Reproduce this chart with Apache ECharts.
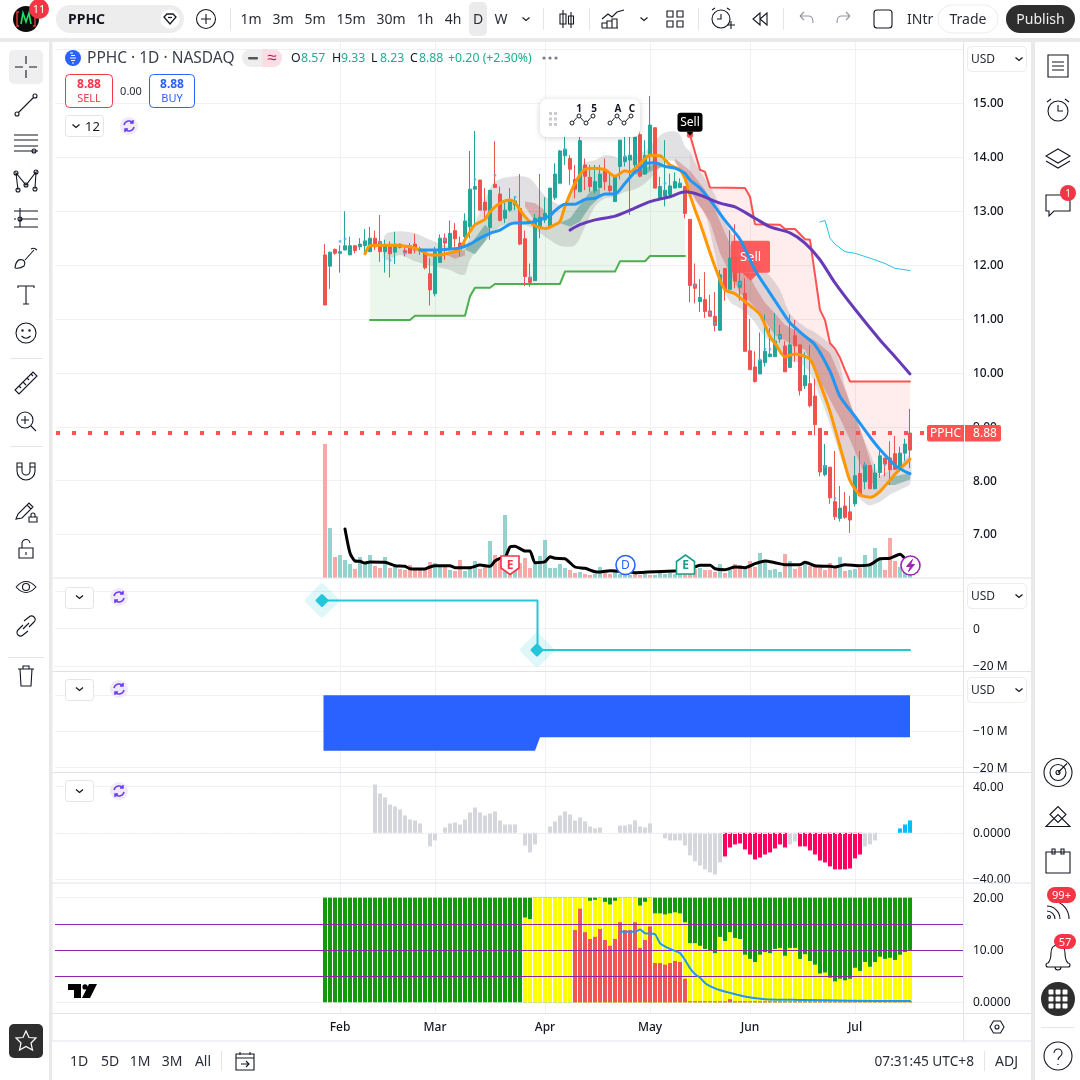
<!DOCTYPE html>
<html><head><meta charset="utf-8"><style>html,body{margin:0;padding:0;background:#fff}#c{width:1080px;height:1080px}</style>
<script src="https://cdn.jsdelivr.net/npm/echarts@6/dist/echarts.min.js"></script></head><body><div id="c"></div><script>
// ---------- data ----------
const monthLabels=['Feb','Mar','Apr','May','Jun','Jul'];
const monthBars=[3,22,44,65,85,106];
const priceTicks=[7,8,9,10,11,12,13,14,15,16];
// [open, close, low, high]
const candles=[[12.19,11.26,11.26,12.39],[11.98,12.24,11.56,12.25],[12.29,12.22,12.19,12.31],[12.22,12.25,11.86,12.37],[12.28,12.36,12.28,13.0],[12.19,12.36,12.19,12.53],[12.36,12.27,12.22,12.37],[12.34,12.39,12.28,12.5],[12.36,12.45,12.24,12.67],[12.25,12.5,12.25,12.71],
[12.5,12.34,12.28,12.64],[12.44,12.25,12.06,12.93],[12.25,12.36,11.86,12.47],[12.34,12.21,11.77,12.44],[12.24,12.39,12.02,12.62],[12.39,12.33,12.31,12.4],[12.27,12.23,12.16,12.34],[12.36,12.22,12.22,12.41],[12.39,12.28,12.22,12.58],[12.28,12.26,12.19,12.34],
[12.25,11.95,11.92,12.28],[11.84,11.54,11.25,12.13],[11.47,12.25,11.42,12.34],[12.05,12.5,12.05,12.57],[12.5,12.41,12.1,12.59],[12.29,12.59,12.29,12.83],[12.64,12.49,12.34,12.78],[12.41,12.28,12.16,12.53],[12.53,12.82,12.34,12.96],[12.71,13.41,12.5,14.12],
[13.41,13.46,12.75,14.49],[13.58,13.02,13.02,13.58],[13.17,13.02,12.87,13.43],[12.7,13.39,12.47,13.39],[13.5,13.44,13.44,14.3],[13.32,12.83,12.81,13.46],[12.87,13.02,12.78,13.18],[13.02,13.19,12.99,13.43],[13.12,13.19,13.02,13.27],[13.05,12.39,12.37,13.69],
[12.49,11.79,11.61,12.64],[11.77,11.68,11.6,12.03],[11.71,12.87,11.71,12.95],[12.71,12.89,12.5,13.69],[12.84,12.96,12.78,13.26],[12.73,13.43,12.71,13.43],[13.25,13.69,13.21,13.89],[13.52,14.12,13.52,14.14],[14.03,14.15,13.86,14.38],[13.98,13.78,13.49,14.04],
[13.59,13.41,13.24,13.86],[13.36,14.31,13.36,14.38],[13.86,13.65,13.39,13.98],[13.63,13.46,13.36,13.86],[13.38,13.55,13.33,13.86],[13.44,13.69,13.43,13.86],[13.77,13.55,13.39,13.98],[13.47,13.38,13.32,13.7],[13.18,13.65,13.17,13.67],[13.83,14.32,13.59,14.32],
[13.92,14.01,13.83,14.38],[13.95,14.04,12.93,14.38],[13.86,14.38,13.74,14.42],[14.42,13.65,13.63,14.54],[13.69,14.03,13.69,14.32],[14.04,14.6,13.77,15.14],[14.55,13.43,13.43,14.55],[13.22,13.46,13.21,13.64],[13.28,13.39,13.09,14.32],[13.31,13.47,13.27,13.7],
[13.43,13.55,13.43,13.72],[13.44,13.52,13.43,13.61],[13.46,12.96,12.87,13.46],[12.85,11.62,11.31,12.85],[11.65,11.57,11.29,12.03],[11.32,11.4,11.13,11.74],[11.36,11.14,11.02,11.87],[11.15,11.05,11.05,11.45],[11.05,10.88,10.77,11.5],[10.79,11.82,10.79,11.91],
[11.94,11.54,11.34,11.94],[11.55,12.13,11.55,12.65],[12.15,11.7,11.57,12.76],[11.59,11.7,11.34,12.17],[11.48,10.4,10.4,11.76],[10.41,10.06,10.06,11.0],[10.11,9.84,9.82,10.4],[9.98,10.24,9.98,10.75],[10.19,10.4,10.12,11.08],[10.3,10.35,10.3,10.83],
[10.3,10.59,10.3,11.11],[10.63,10.71,10.56,10.89],[10.5,10.02,10.02,10.59],[10.1,10.52,10.1,11.08],[10.69,10.5,10.21,10.98],[10.52,9.67,9.58,10.52],[9.76,9.95,9.7,10.38],[9.8,9.39,9.36,10.52],[9.57,9.04,8.84,9.89],[8.97,8.16,8.08,8.97],
[8.11,8.28,8.08,8.68],[8.25,7.68,7.57,8.25],[7.61,7.33,7.27,8.55],[7.3,7.49,7.24,7.9],[7.53,7.32,7.29,7.79],[7.42,7.27,7.03,7.72],[7.57,8.09,7.52,8.46],[8.13,7.72,7.71,8.55],[7.98,8.29,7.84,8.34],[8.28,7.85,7.85,8.28],
[7.85,8.14,7.84,8.31],[8.15,8.46,8.05,8.62],[8.42,8.31,8.08,8.42],[8.42,8.2,7.92,8.73],[8.5,8.21,8.2,8.83],[8.25,8.51,8.17,8.63],[8.51,8.68,8.36,8.78],[8.57,8.88,8.23,9.33]];
const lastBody=[8.88,8.57,8.57,8.88];
const volumes=[134,50,21,23,18,14,9,21,14,23,12,10,21,10,12,9,8,13,8,8,8,16,15,13,11,8,7,18,7,9,17,9,11,37,23,18,63,10,10,15,20,10,15,22,38,10,10,14,10,8,5,6,4,3,4,11,6,4,6,4,4,3,4,3,4,3,3,6,4,5,4,5,6,7,9,10,8,8,6,14,5,8,14,13,12,17,11,25,16,8,9,6,24,17,9,11,16,12,11,10,8,15,12,21,7,8,9,10,23,14,30,19,8,40,17,11,8,8];
const volumeDirs=['r','g','r','g','g','g','r','g','g','g','r','r','g','r','g','r','r','r','r','r','r','r','g','g','r','g','r','r','g','g','g','r','r','g','r','r','g','r','g','r','r','r','g','g','g','g','g','g','g','r','r','g','r','r','g','g','r','r','g','g','g','g','r','r','g','r','g','g','g','g','g','g','r','r','r','g','r','r','r','g','r','g','r','r','g','r','r','g','g','g','g','g','r','g','r','r','g','r','r','r','r','r','r','g','r','g','g','r','g','g','g','g','r','r','r','g','g','g'];
const volumeAverage=[[4,49],[5,25],[6,17],[7,16.7],[8,15],[9,16],[12,15.7],[14,12.3],[16,11.7],[17,9.3],[20,9],[21,11],[22,12.3],[25,12.3],[26,10.3],[29,10.3],[31,13],[33,11.7],[34,17],[35,19.7],[36,20.3],[37,31],[38,31.7],[40,27],[41,27],[42,15.3],[44,16.3],[45,21.3],[46,19.7],[48,19.3],[50,11],[52,9.7],[54,6.3],[55,6],[57,7.3],[59,6.7],[61,6],[62,5.3],[70,7],[72,7],[75,12.7],[77,12.7],[78,9.3],[80,8.3],[82,11],[84,10.3],[86,14.3],[88,17],[90,15.3],[92,13.3],[95,13.3],[96,15.7],[98,12.3],[101,11.7],[102,11],[104,13.3],[107,12.3],[109,13.3],[111,19.3],[113,19.7],[115,23.7],[116,19.3]];
const blueLine=[[19,12.28],[21,12.28],[24,12.29],[27,12.32],[29,12.39],[31,12.5],[33,12.59],[35,12.65],[37,12.76],[38,12.78],[41,12.79],[43,12.84],[45,12.92],[46,13.01],[48,13.13],[50,13.13],[52,13.22],[54,13.24],[56,13.32],[58,13.32],[60,13.52],[62,13.73],[63,13.78],[64,13.88],[66,13.9],[68,13.83],[70,13.8],[72,13.7],[73,13.58],[75,13.43],[77,13.21],[80,12.83],[83,12.48],[86,11.91],[89,11.48],[91,11.2],[93,10.93],[96,10.68],[98,10.52],[101,10.03],[103,9.56],[106,9.19],[109,8.81],[111,8.58],[114,8.29],[116,8.17],[117,8.13]];
const orangeLine=[[8,12.21],[9,12.36],[11,12.37],[14,12.37],[17,12.34],[19,12.28],[21,12.19],[23,12.19],[25,12.23],[27,12.29],[28,12.47],[29,12.62],[30,12.75],[32,12.85],[33,12.99],[35,13.15],[37,13.21],[38,13.16],[40,12.9],[42,12.73],[44,12.68],[46,12.75],[47,12.81],[48,13.09],[50,13.52],[52,13.78],[54,13.8],[56,13.77],[58,13.65],[60,13.75],[61,13.73],[63,13.88],[65,14.04],[67,14.03],[69,13.86],[71,13.77],[72,13.61],[73,13.3],[74,13.03],[75,12.78],[78,11.97],[80,11.54],[82,11.47],[84,11.32],[87,11.08],[89,10.67],[90,10.55],[92,10.3],[94,10.35],[97,10.25],[99,9.8],[101,9.28],[104,8.3],[105,8],[107,7.74],[109,7.69],[111,7.8],[114,8.12],[117,8.4]];
const purpleLine=[[49,12.65],[51,12.75],[54,12.84],[58,12.91],[61,13.02],[65,13.18],[69,13.27],[72,13.36],[75,13.3],[79,13.15],[82,13.08],[86,12.87],[89,12.71],[93,12.6],[96,12.41],[99,12.1],[102,11.67],[106,11.18],[111,10.61],[114,10.3],[117,9.98]];
const stopRed=[[73,14.42],[75,13.77],[76,13.73],[77,13.44],[84,13.43],[85,13.27],[86,12.76],[91,12.75],[92,12.67],[94,12.67],[96,12.48],[97,12.47],[99,11.17],[100,10.98],[101,10.55],[102,10.45],[103,10.28],[104,10.05],[105,9.84],[117,9.84]];
const stopGreen=[[9,10.98],[17,10.98],[18,11.06],[28,11.06],[29,11.42],[30,11.58],[33,11.58],[34,11.65],[47,11.65],[48,11.88],[58,11.88],[59,12.07],[64,12.07],[65,12.17],[72,12.17]];
const cyanLine=[[99,12.8],[100,12.83],[101,12.5],[102,12.39],[104,12.25],[106,12.22],[109,12.13],[112,12.03],[114,11.94],[117,11.9]];
const greyUpper=[[12,12.56],[15,12.63],[18,12.59],[21,12.47],[25,12.34],[28,12.36],[30,12.78],[32,13.21],[34,13.55],[38,13.65],[41,13.61],[43,13.39],[45,13.21],[48,13.12],[50,13.58],[52,13.89],[54,13.95],[56,14.04],[58,14.01],[60,13.92],[62,14.05],[64,14.12],[66,14.32],[68,14.46],[70,14.48],[71,14.42],[72,14.2],[73,14.1],[74,13.9],[76,13.6],[78,13.3],[80,12.8],[82,12.5],[85,12.25],[87,11.97],[89,11.8],[91,11.54],[93,11.1],[96,10.85],[98,10.75],[102,10.43],[104,9.75],[106,9.19],[109,8.51],[111,8.1],[113,8.2],[115,8.3],[117,8.45]];
const greyLower=[[12,12.1],[15,12.19],[18,12.07],[22,11.97],[25,11.91],[27,11.82],[28,11.83],[29,12.1],[31,12.34],[33,12.53],[35,12.71],[38,12.78],[41,12.71],[44,12.53],[47,12.36],[50,12.37],[52,12.71],[54,13.09],[56,13.24],[58,13.27],[60,13.36],[62,13.41],[64,13.52],[66,13.7],[68,13.92],[70,13.92],[72,13.6],[74,13.2],[76,12.96],[78,12.2],[79,11.73],[81,11.32],[83,11.2],[85,11.05],[88,10.67],[91,10.43],[92,10.24],[95,10.18],[97,10],[100,9.31],[102,8.76],[104,8.2],[106,7.77],[108,7.58],[109,7.54],[111,7.61],[113,7.74],[115,7.83],[117,7.94]];
const redRibbonUpper=[[70,13.98],[73,13.75],[76,13.4],[78,13.03],[80,12.6],[82,12.19],[84,11.97],[86,11.6],[88,11.3],[90,11.1],[92,10.89],[95,10.74],[98,10.6],[101,10.37],[103,9.93],[105,9.44],[107,8.97],[109,8.38],[110,8.08]];
const redRibbonLower=[[70,13.92],[73,13.4],[75,13.09],[77,12.8],[79,12.22],[81,11.85],[83,11.48],[85,11.32],[87,11.1],[90,10.7],[93,10.55],[96,10.43],[98,10.03],[101,9.5],[103,9.16],[105,8.76],[107,8.32],[109,7.89],[110,8.0]];
const redRibbon1U=[[24,12.22],[26,12.25],[28,12.28]], redRibbon1L=[[24,12.2],[26,12.12],[28,12.18]];
const redRibbon2U=[[40,13.18],[42,13.15],[44,13.02]], redRibbon2L=[[40,13.09],[42,12.81],[44,12.84]];
const tealRibbon1U=[[28,12.29],[30,12.5],[32,12.75],[33,12.65]], tealRibbon1L=[[28,12.29],[30,12.2],[32,12.44],[33,12.62]];
const tealRibbon2U=[[47,12.78],[49,12.87],[51,13.12],[53,13.36],[55,13.43]], tealRibbon2L=[[47,12.78],[49,12.71],[51,12.81],[53,13.09],[55,13.27]];
const tealRibbon3U=[[62,13.72],[64,13.8],[66,13.88],[68,13.83]], tealRibbon3L=[[62,13.68],[64,13.68],[66,13.78],[68,13.83]];
const tealRibbon4U=[[112,7.92],[114,8.08],[117,8.14]], tealRibbon4L=[[112,7.92],[114,7.92],[117,8.02]];
// pane 2 (millions)
const stepSeries=[[0,15.2],[42,15.2],[43,-11.5],[117,-11.5]];
// pane 3 (millions)
const blueAreaTop=[[0,0],[117,0]];
const blueAreaBottom=[[0,-15.3],[42,-15.3],[43,-11.6],[117,-11.6]];
// pane 4 histogram (index 10 onward)
const histValues=[41.8,34.1,30.6,24.5,22.8,20.2,15,11.5,10.7,8.1,0,-11.8,-6.6,0,4.6,8.1,8.9,7.2,11.5,17.6,21.9,17.6,15,16.7,18.5,10.7,7.2,7.2,7.2,0,-11,-17,-10.1,0,0,5.5,9.8,15,18.5,15.9,10.7,13.3,9.8,5.5,3.8,4.6,0,0,0,6.3,6.3,7.2,10.7,5.5,4.6,8.1,0,0,-4.9,-6.6,-6.6,-6.6,-11,-19.6,-24.8,-28.3,-31.7,-34.3,-36.1,-25.7,-20.5,-12.7,-10.1,-9.2,-14.4,-18.8,-23.1,-21.4,-18.8,-17,-13.6,-10.1,-12.7,-10.1,-7.5,-11.8,-11.8,-15.3,-18.8,-24,-25.7,-29.1,-31.7,-31.7,-31.7,-30.9,-22.2,-18.8,-11.8,-10.1,-6.6,0,0,0,0,3.8,7.2,10.7];
const histPink=[[80,92],[95,107]], histCyan=[[115,117]];
// pane 5 stacks (value of each colour's top edge)
const redTop=[0,0,0,0,0,0,0,0,0,0,0,0,0,0,0,0,0,0,0,0,0,0,0,0,0,0,0,0,0,0,0,0,0,0,0,0,0,0,0,0,0,0,0,0,0,0,0,0,0,0,13.8,17.9,13.4,12.1,12.5,14,11.9,10.8,12.1,15.3,13.8,13.8,15.3,10.4,11.9,14.5,7.5,7.5,7.2,7.5,7.9,7.7,4.5,0.2,0.2,0.2,0.2,0.2,0.2,0.2,0.2,0.6,0.2,0.2,0.2,0.2,0.2,0.2,0.2,0.2,0.2,0.2,0.2,0.2,0.2,0.2,0.2,0.2,0.2,0.2,0.2,0.2,0.2,0.2,0.2,0.2,0.2,0.2,0.2,0.2,0.2,0.2,0.2,0.2,0.2,0.2,0.2,0.2];
const yellowTop=[0,0,0,0,0,0,0,0,0,0,0,0,0,0,0,0,0,0,0,0,0,0,0,0,0,0,0,0,0,0,0,0,0,0,0,0,0,0,0,0,16.2,15.9,20,20,20,20,20,20,20,20,20,20,20,19.4,19.6,20,19.2,18.7,19.4,20,20,20,20,18.5,19.2,20,17,17,16.8,17,17.2,17,15.3,11.3,11.3,10.8,10.2,9.8,9.4,12.5,11.7,13.4,12.3,12.1,9.1,8.3,7.7,9.1,9.6,9.4,10.2,10.4,8.9,10.4,10.4,8.3,9.2,7.9,7.2,5.5,5.7,4.7,4,4.5,4.2,4.5,6.6,6,7.7,6.8,7.7,8.7,8.3,8.5,8.1,9.1,9.6,10];
const greenTop=new Array(118).fill(20);
const pane5Line=[[59,13.5],[62,13.5],[63,13.9],[64,13.2],[66,13],[67,11.3],[69,10.2],[71,9.4],[72,8.1],[73,6.5],[74,5.4],[75,4.7],[76,3.7],[77,3.1],[79,2.3],[81,1.8],[84,1.1],[88,0.6],[95,0.45],[105,0.3],[117,0.25]];
const pane5Levels=[15,10,5];
const dotMarks=[[3,12.44],[4,12.49],[11,12.42],[13,12.09],[16,12.22],[19,12.29],[24,12.47],[30,13.59],[34,13.67],[38,13.26],[41,11.77],[48,14.15],[60,14.02],[68,13.52],[74,11.63],[77,11.11],[78,10.92],[83,11.66],[87,10.24],[88,10.44],[89,10.44],[91,10.67],[100,8.26],[102,7.67],[108,8.29],[112,8.29]];
const sellMarks=[{i:73,p:14.42},{i:85,p:11.99}];

// ---------- layout ----------
const LEAD=54, N=183, GL=55, GW=910;
const FONT='"Noto Sans",sans-serif', INK='#131722', GRID='#F0F1F5', SEP='#E0E3EB';
const GREEN='#26A69A', RED='#EF5350';
const categories=Array.from({length:N},(_,k)=>{const m=monthBars.indexOf(k-LEAD);return m>=0?monthLabels[m]:'d'+k;});
const X=i=>i+LEAD, shift=a=>a.map(p=>[X(p[0]),p[1]]);
const inRange=(r,i)=>r.some(s=>i>=s[0]&&i<=s[1]);
const panes=[{top:42,bottom:578,max:16.1415,min:6.1926,ticks:priceTicks,labels:[7,8,9,10,11,12,13,14,15],fmt:v=>v.toFixed(2)},
{top:578.5,bottom:671.5,max:27.1,min:-23.1,ticks:[-20,0,20],labels:[-20,0],fmt:v=>v==0?'0':'\u2212'+Math.abs(v)+' M'},
{top:672,bottom:772.5,max:6.44,min:-21.33,ticks:[-20,-10,0],labels:[-20,-10],fmt:v=>'\u2212'+Math.abs(v)+' M'},
{top:773,bottom:883,max:51.8,min:-43.5,ticks:[-40,0,40],labels:[-40,0,40],fmt:v=>v==0?'0.0000':(v<0?'\u2212':'')+Math.abs(v).toFixed(2)},
{top:883.5,bottom:1013.5,max:22.7,min:-2.14,ticks:[0,10,20],labels:[0,10,20],fmt:v=>v==0?'0.0000':v.toFixed(2)}];
const grids=panes.map(p=>({left:GL,width:GW,top:p.top,height:p.bottom-p.top}));
const isMonth=(k)=>monthBars.includes(k-LEAD);
const xAxes=panes.map((p,g)=>({type:'category',gridIndex:g,data:categories,boundaryGap:false,axisLine:{show:false},axisTick:{show:false},
 splitLine:{show:true,interval:(k)=>isMonth(k),lineStyle:{color:GRID,width:1}},
 axisLabel:{show:g==4,interval:(k)=>isMonth(k),margin:8,color:INK,fontFamily:FONT,fontSize:12,fontWeight:500,hideOverlap:false}}));
const yAxes=panes.map((p,g)=>({type:'value',gridIndex:g,position:'right',min:p.min,max:p.max,axisLine:{show:false},
 axisTick:{show:false,customValues:p.ticks},splitLine:{show:true,lineStyle:{color:GRID,width:1}},
 axisLabel:{customValues:p.labels,formatter:p.fmt,margin:8,verticalAlign:'top',padding:[-5.5,0,0,0],color:INK,fontFamily:FONT,fontSize:12,fontWeight:g==0?500:400,align:'left',showMinLabel:true,showMaxLabel:true}}));
yAxes.push({type:'value',gridIndex:0,position:'right',min:0,max:536,show:false,splitLine:{show:false}}); // volume overlay axis = index 5

function band(name,up,lo,color,z,g,smooth,leftPad){ g=g||0;
 return {type:'custom',name,xAxisIndex:g,yAxisIndex:g,z,silent:true,clip:true,data:[[LEAD,0]],
  renderItem:(prm,api)=>{const pts=[];up.forEach(p=>pts.push(api.coord([X(p[0]),p[1]])));lo.slice().reverse().forEach(p=>pts.push(api.coord([X(p[0]),p[1]])));
   if(leftPad){const m=Math.min(...pts.map(p=>p[0]));pts.forEach(p=>{if(p[0]===m)p[0]-=leftPad;});}
   return {type:'polygon',shape:{points:pts,smooth:smooth||0},style:{fill:color}};}};}
function line(name,pts,color,width,z,g,smooth,extra){ g=g||0;
 return Object.assign({type:'line',name,xAxisIndex:g,yAxisIndex:g,data:shift(pts),showSymbol:false,symbol:'none',z,smooth:smooth||0,silent:true,
  lineStyle:{color,width,cap:'round',join:'round'}},extra||{});}
const grnFillUp=orangeLine.filter(p=>p[0]>=9&&p[0]<=72), pinkFillLo=orangeLine.filter(p=>p[0]>=73);
const candleRows=candles.map((c,i)=>[X(i),c[0],c[1],c[2],c[3]]);
const barOf=(vals,start)=>vals.map((v,i)=>[X(i+(start||0)),v]);

const series=[
 band('greenFill',grnFillUp,stopGreen,'rgba(76,175,80,.11)',1),
 band('pinkFill',stopRed,pinkFillLo,'rgba(255,82,82,.11)',1),
 {type:'bar',name:'volume',xAxisIndex:0,yAxisIndex:5,data:barOf(volumes),barWidth:4,z:1,silent:true,
  itemStyle:{color:p=>volumeDirs[p.dataIndex]=='g'?'#93D3CD':'#F7A9A7'}},
 band('greyRibbon',greyUpper,greyLower,'rgba(105,105,115,.2)',2,0,.3),
 band('redRibbon',redRibbonUpper,redRibbonLower,'rgba(190,60,60,.3)',2),
 band('redRibbon1',redRibbon1U,redRibbon1L,'rgba(190,60,60,.3)',2),
 band('redRibbon2',redRibbon2U,redRibbon2L,'rgba(190,60,60,.3)',2),
 band('tealRibbon1',tealRibbon1U,tealRibbon1L,'rgba(30,125,110,.38)',2),
 band('tealRibbon2',tealRibbon2U,tealRibbon2L,'rgba(30,125,110,.38)',2),
 band('tealRibbon3',tealRibbon3U,tealRibbon3L,'rgba(30,125,110,.38)',2),
 band('tealRibbon4',tealRibbon4U,tealRibbon4L,'rgba(30,125,110,.38)',2),
 line('stopGreen',stopGreen,'#4CAF50',2,3),
 line('stopRed',stopRed,'#FF5252',2,3),
 {type:'candlestick',name:'PPHC',xAxisIndex:0,yAxisIndex:0,data:candleRows,encode:{x:0,y:[1,2,3,4]},barWidth:3,z:4,silent:true,
  itemStyle:{color:GREEN,color0:RED,borderColor:GREEN,borderColor0:RED,borderWidth:1}},
 {type:'candlestick',name:'lastBody',xAxisIndex:0,yAxisIndex:0,data:[[X(117),...lastBody]],encode:{x:0,y:[1,2,3,4]},barWidth:3,z:4,silent:true,
  itemStyle:{color:RED,color0:RED,borderColor:RED,borderColor0:RED,borderWidth:1}},
 {type:'scatter',name:'dots',xAxisIndex:0,yAxisIndex:0,data:shift(dotMarks),symbol:'rect',symbolSize:2.5,z:4,silent:true,itemStyle:{color:'#5AA7E8'}},
 {type:'custom',name:'sellTags',xAxisIndex:0,yAxisIndex:0,z:5,silent:true,clip:false,data:sellMarks.map(m=>[X(m.i),m.p]),
  renderItem:(prm,api)=>{const c=api.coord([api.value(0),api.value(1)]);const x=c[0],y=c[1];
   if(prm.dataIndex==0) return {type:'group',children:[
     {type:'circle',shape:{cx:x,cy:y,r:3.2},style:{fill:'#FF5252'}},
     {type:'rect',shape:{x:x-12.5,y:y-22,width:25,height:19,r:3},style:{fill:'#000'}},
     {type:'polygon',shape:{points:[[x-3.5,y-3],[x+3.5,y-3],[x,y+1]]},style:{fill:'#000'}},
     {type:'text',x:x,y:y-12,style:{text:'Sell',fill:'#fff',font:'12px '+FONT,align:'center',verticalAlign:'middle'}}]};
   return {type:'group',children:[
     {type:'rect',shape:{x:x-19,y:y-25,width:39,height:32,r:2},style:{fill:'rgba(255,82,82,.93)'}},
     {type:'polygon',shape:{points:[[x-8,y+7],[x+9,y+7],[x+.5,y+15]]},style:{fill:'rgba(255,82,82,.93)'}},
     {type:'text',x:x+.5,y:y-8,style:{text:'Sell',fill:'#fff',font:'13px '+FONT,align:'center',verticalAlign:'middle'}}]};}},
 line('orange',orangeLine,'#FF9800',3,6,0,.25),
 line('blue',blueLine,'#2196F3',3,7,0,.25),
 line('purple',purpleLine,'#673AB7',3,8,0,.25),
 line('cyan',cyanLine,'#26C6DA',1,8),
 line('volumeAverage',volumeAverage,'#000',3,8,0,.2,{yAxisIndex:5}),
 // price line
 {type:'line',name:'price',xAxisIndex:0,yAxisIndex:0,data:[],silent:true,z:9,
  markLine:{silent:true,symbol:'none',animation:false,label:{show:false},lineStyle:{color:'#FF5252',type:[4,12],dashOffset:-1,width:4,cap:'butt'},data:[{yAxis:8.88}]}},
 // pane 2
 line('step',stepSeries,'#26C6DA',2,4,1,0,{step:'middle'}),
 // pane 3
 band('blueArea',blueAreaTop,blueAreaBottom,'#2962FF',4,2,0,1.5),
 // pane 4
 {type:'bar',name:'hist',xAxisIndex:3,yAxisIndex:3,data:barOf(histValues,10),barWidth:4,z:3,silent:true,
  itemStyle:{color:p=>{const i=p.dataIndex+10;return inRange(histCyan,i)?'#00BFFF':inRange(histPink,i)?'#FF0060':'#D6D7DC';}},
  markLine:{silent:true,symbol:'none',animation:false,label:{show:false},lineStyle:{color:'#ECEDF0',type:'dashed',width:1},data:[{yAxis:0}]}},
 // pane 5
 {type:'bar',name:'green',xAxisIndex:4,yAxisIndex:4,data:barOf(greenTop),barWidth:4,barGap:'-100%',z:2,silent:true,itemStyle:{color:'#129A0C'}},
 {type:'bar',name:'yellow',xAxisIndex:4,yAxisIndex:4,data:barOf(yellowTop),barWidth:4,barGap:'-100%',z:3,silent:true,itemStyle:{color:'#FFFF00'}},
 {type:'bar',name:'red',xAxisIndex:4,yAxisIndex:4,data:barOf(redTop),barWidth:4,barGap:'-100%',z:4,silent:true,itemStyle:{color:'#F25555'}},
 line('pane5Line',pane5Line,'#2196F3',2,6,4,.2,{
  markLine:{silent:true,symbol:'none',animation:false,label:{show:false},lineStyle:{color:'#8E24AA',type:'solid',width:1},data:pane5Levels.map(v=>({yAxis:v}))}}),
];

// ---------- chrome ----------
const G=[], ICONS=[];
const Z=50, ZI=52, ZB=53, ZT=54;
const rect=(x,y,w,h,fill,r,stroke,lw,z)=>G.push({type:'rect',z:z||Z,silent:true,shape:{x,y,width:w,height:h,r:r||0},style:{fill:fill||'none',stroke:stroke||null,lineWidth:lw||1}});
const circle=(cx,cy,r,fill,stroke,lw,z)=>G.push({type:'circle',z:z||Z,silent:true,shape:{cx,cy,r},style:{fill:fill||'none',stroke:stroke||null,lineWidth:lw||1}});
const txt=(x,y,t,size,color,opt)=>{opt=opt||{};G.push({type:'text',z:ZT,silent:true,x,y:y+.9,style:{text:t,fill:color||INK,font:(opt.w||'normal')+' '+size+'px '+FONT,align:opt.a||'left',verticalAlign:'middle'}});};
const ic=(cx,cy,d,stroke,lw,fill)=>ICONS.push({cx,cy,d,stroke:stroke===undefined?INK:stroke,lw:lw||1.1,fill:fill||'none'});
const cp=(x,y,r)=>`M${x-r} ${y}a${r} ${r} 0 1 0 ${2*r} 0a${r} ${r} 0 1 0 ${-2*r} 0`;
// panels
const GAP='#E9E9EA';
rect(0,38,1080,4,GAP);rect(49,42,3.5,1038,GAP);rect(1031,42,4,1038,GAP);
rect(52.5,1041,978.5,39,'#fff');
[[578],[671.5],[772.5],[883],[1013.5],[1041]].forEach(a=>rect(52.5,a[0]-.5,978.5,1,SEP));
rect(963,42,1,999,SEP);rect(964,42,1.5,999,'#fff',0,null,1,Z-1);
// top bar
circle(26,19,13,'#0B0B0B');ic(26,19,'M-7 -7h-2v14h2M7 -7h2v14h-2','#E53935',1.4);ic(26,19,'M-5 5L-3 -6L0 3L3 -6L5 5','#22E06A',1.6);
circle(39,9,10,'#F23645',null,1,ZB);txt(39,9,'11',11,'#fff',{a:'center'});
rect(56,5,128,28,'#EDEDED',14);txt(68,19,'PPHC',14,INK,{w:'bold'});
circle(170,19,9.5,'#fff');ic(170,19,'M-6 -2L-3 -5H3L6 -2L0 5Z',INK,1.3);ic(170,19,'M-2 -1.5h4',INK,1.3);
circle(206,19,9.5,null,INK,1.1);ic(206,19,'M-5 0h10M0 -5v10');
rect(230,8,1,22,'#E5E5E5');
[['1m',251],['3m',283],['5m',315],['15m',351],['30m',391],['1h',425],['4h',453]].forEach(a=>txt(a[1],19,a[0],14,'#2A2E39',{a:'center'}));
rect(469,2,18,34,'#EBEBEB',5);txt(478,19,'D',14,'#2A2E39',{a:'center'});txt(501,19,'W',14,'#2A2E39',{a:'center'});
ic(526,19,'M-3.5 -1.5L0 1.5L3.5 -1.5');rect(543,8,1,22,'#E5E5E5');
ic(563,19,'M0 -9v18M-3 -5h6v10h-6z',INK,1.1,'#fff');ic(571,19,'M0 -7v16M-2.5 -3h5v8h-5z',INK,1.1,'#fff');rect(589,8,1,22,'#E5E5E5');
ic(613,19,'M-11 0L-5 -5L-1 -2L4 -7L11 -9M-11 9v-5h5v5M-6 9v-7h5v7M-1 9v-9h5v9M-11 9h16');
ic(644,19,'M-3.5 -1.5L0 1.5L3.5 -1.5');
ic(675,19,'M-8 -8h6v6h-6zM2 -8h6v6h-6zM-8 2h6v6h-6zM2 2h6v6h-6z');rect(698,8,1,22,'#E5E5E5');
ic(721,19,cp(0,0,9)+'M0 -5v5h-4M-9 -9L-6 -11M9 -9L6 -11M6 6h8M10 2v8',INK,1.1);
ic(760,19,'M0 -6L-7 0L0 6zM7 -6L0 0L7 6z');rect(783,8,1,22,'#E5E5E5');
ic(806,19,'M-6 -3H3Q7 -3 7 4M-6 -3L-2 -7M-6 -3L-2 1','#9598A1');
ic(844,19,'M6 -3H-3Q-7 -3 -7 4M6 -3L2 -7M6 -3L2 1','#9598A1');
rect(874,10,18,18,null,3,INK,1.1);
txt(907,19,'INtr',14,'#2A2E39');
rect(938,5,60,28,'#fff',14,'#EDEDED',1);txt(968,19,'Trade',14,'#2A2E39',{a:'center'});
rect(1006,5,69,28,'#2E2E2E',14);txt(1040.5,19,'Publish',14,'#F0F0F0',{a:'center'});
// left toolbar
rect(9,50,34,34,'#EFEFEF',5);
ic(26,67,'M0 -11v8M0 3v8M-11 0h8M3 0h8');
ic(26,105,cp(-9,9,2)+cp(9,-9,2)+'M-7.5 7.5L7.5 -7.5');
ic(26,143,'M-12 -8h24M-12 -3h24M-12 3h24M-12 8h24'+cp(8,8,2));
ic(26,181,'M-8 9L-10 -8L0 4L10 -9L9 8'+cp(-8,9,2)+cp(-10,-8,2)+cp(0,4,2)+cp(10,-9,2)+cp(9,8,2));
ic(26,219,'M-12 -8h24M-12 8h24M-6 -8v-3M-6 -8v16M-6 0h18M-12 0h2'+cp(-6,0,2));
ic(26,258,'M-11 10Q-10 0 -3 2Q0 4 -2 8Q-6 11 -11 10M-1 2L8 -8M5 -9Q8 -11 11 -8');
ic(26,295,'M-8 -7v-2h16v2M0 -9v18M-3 9h6');
ic(26,333,cp(0,0,10)+cp(-3.5,-2.5,.7)+cp(3.5,-2.5,.7)+'M-4.5 3Q0 7.5 4.5 3');
rect(10,358,33,1,'#E5E5E5');
ic(26,383,'M-11 7L7 -11L11 -7L-7 11zM-7 3l2 2M-3 -1l3 3M1 -5l2 2M5 -9l2 2');
ic(26,421,cp(-1,-1,8)+'M5 5L10 10M-5 -1h8M-1 -5v8');
rect(10,446,33,1,'#E5E5E5');
ic(26,472,'M-9 -9v8a9 9 0 0 0 18 0v-8h-5v8a4 4 0 0 1 -8 0v-8zM-9 -5h5M4 -5h5');
ic(26,511,'M-10 8L-8 3L3 -8L7 -4L-4 7zM1 -6l4 4M3 6h8v5h-8zM5 6v-2a2 2 0 0 1 4 0v2');
ic(26,549,'M-7 -1h14v10h-14zM-4 -1v-4a4 4 0 0 1 8 -1M0 3v3');
ic(26,587,'M-10 0Q0 -11 10 0Q0 11 -10 0'+cp(0,0,3.5));
ic(26,626,'M-2 -5L3 -9a3.5 3.5 0 0 1 5 5L3 1M2 5L-3 9a3.5 3.5 0 0 1 -5 -5L-3 -1M-3 3L3 -3');
rect(8,657,36,1,'#E5E5E5');
ic(26,676,'M-8 -7h16M-3 -7v-3h6v3M-6 -7L-5 10H5L6 -7');
rect(9,1024,34,34,'#2E2E2E',5);ic(26,1041,'M0 -10L3 -3.5L10 -3L5 2L6.5 9L0 5.5L-6.5 9L-5 2L-10 -3L-3 -3.5Z','#fff',1.2);
// right toolbar
ic(1058,66,'M-10 -11h20v22h-20zM-6 -4h12M-6 0h12M-6 4h12');
ic(1058,111,cp(0,0,10)+'M0 -6v6h5M-7 -12L-11 -9M7 -12L11 -9');
ic(1058,157,'M0 -8L12 -1L0 6L-12 -1zM-12 4L0 11L12 4');
ic(1058,205,'M-12 -10h24v16h-16L-9 11V6H-12z');circle(1068,193,8,'#F23645',null,1,ZB);txt(1068,193,'1',10,'#fff',{a:'center'});
ic(1058,772.5,cp(0,0,14)+cp(0,0,8)+cp(0,0,2)+'M0 0L9 -9',INK,1.1);
ic(1058,816.5,'M-12 10L0 -2L12 10zM-8 -2L0 -10L8 -2L0 6z');
ic(1058,861,'M-12 -9h24v21h-24zM-6 -12v5h3v-5zM3 -12v5h3v-5z');
ic(1058,908,cp(-9,9,1.5)+'M-11 3A8 8 0 0 1 -3 11M-11 -2A13 13 0 0 1 2 11M-4 -7A18 18 0 0 1 11 11');
rect(1047,887,29,16,'#F23645',8,null,1,ZB);txt(1061.5,895,'99+',11,'#fff',{a:'center'});
ic(1058,955,'M-10 8Q-7 5 -7 -2Q-7 -10 0 -10Q7 -10 7 -2Q7 5 10 8a2 2 0 0 1 0 4H-10a2 2 0 0 1 0 -4M-3 12a3 3 0 0 0 6 0');
rect(1054,934,22,15,'#F23645',7.5,null,1,ZB);txt(1065,941.5,'57',11,'#fff',{a:'center'});
circle(1058,999,17,'#2E2E2E');
[-7,0,7].forEach(dx=>[-7,0,7].forEach(dy=>rect(1058+dx-2.5,999+dy-2.5,5,5,'#fff',1,null,1,ZB)));
rect(1041,1027,33,1,'#E5E5E5');
ic(1058,1056,cp(0,0,14)+'M-4 -3a4 4 0 1 1 6 3.5Q0 2 0 4M0 8v1');
// legend
circle(73,58,8,'#2962FF');ic(73,58,'M-3 -5h3M-2 -2.5h4M-3 0h6M-2 2.5h4M-1 5h2','#fff',1);
txt(87,58,'PPHC \u00B7 1D \u00B7 NASDAQ',15.5,'#3A3F4A');
rect(242,49,40,18,'#EDEDED',9);G.push({type:'rect',z:Z+1,silent:true,shape:{x:262,y:49,width:20,height:18,r:[0,9,9,0]},style:{fill:'#FBDDE4'}});
rect(248,57,10,2.5,'#555',1,null,1,ZB);txt(272,57.5,'\u2248',17,'#C2185B',{a:'center'});
const TEAL='#22AB94';
[['O',291,INK],['8.57',301,TEAL],['H',332,INK],['9.33',341,TEAL],['L',371,INK],['8.23',380,TEAL],['C',410,INK],['8.88',419,TEAL],['+0.20 (+2.30%)',448,TEAL]].forEach(a=>txt(a[1],58,a[0],12.3,a[2]));
[544,550,556].forEach(x=>circle(x,58,1.6,'#787B86'));
rect(65.5,74.5,47,33,'#fff',4,'#F23645',1);txt(89,84,'8.88',12,'#F23645',{a:'center',w:'bold'});txt(89,98,'SELL',11,'#F23645',{a:'center'});
txt(131,90.5,'0.00',11,'#2A2E39',{a:'center'});
rect(149.5,74.5,45,33,'#fff',4,'#2962FF',1);txt(172,84,'8.88',12,'#2962FF',{a:'center',w:'bold'});txt(172,98,'BUY',11,'#2962FF',{a:'center'});
const chev=(x,y)=>ic(x,y,'M-3.5 -1.5L0 1.5L3.5 -1.5',INK,1.3);
const sync=(x,y)=>{circle(x,y,9,'#EFE9F8');ic(x,y,'M-5 -1A5 5 0 0 1 4 -3M5 1A5 5 0 0 1 -4 3M4 -6v3h-3M-4 6v-3h3','#6A3DF0',1.5);};
rect(65.5,115.5,38,21,'#fff',3,'#E5E5E5',1);chev(76,126);txt(92.5,126,'12',13,INK,{a:'center'});sync(129,126);
rect(65.5,587.5,28,21,'#fff',3,'#E5E5E5',1);chev(79.5,597);sync(119,597);
rect(65.5,679.5,28,21,'#fff',3,'#E5E5E5',1);chev(79.5,689);sync(119,689);
rect(65.5,780.5,28,21,'#fff',3,'#E5E5E5',1);chev(79.5,791);sync(119,791);
// USD boxes
[46,583,677].forEach(y=>{rect(967.5,y+.5,59,25,'#fff',4,'#EDEDED',1);txt(971,y+12.5,'USD',12,'#2A2E39');chev(1019,y+13);});
// price tag
rect(927,425,74,16.5,'#FF5252',2);rect(964,425,1,16.5,'#fff',0,null,1,Z+1);txt(945.5,433,'PPHC',12,'#fff',{a:'center'});txt(985,433,'8.88',12,'#fff',{a:'center'});
// floating drawing bar
G.push({type:'rect',z:Z,silent:true,shape:{x:540,y:99,width:100,height:38,r:7},style:{fill:'#fff',shadowBlur:6,shadowColor:'rgba(0,0,0,.18)',shadowOffsetY:1}});
[0,5.5,11].forEach(dy=>[549,554].forEach(x=>rect(x,112+dy,3,3,'#C9CBD0',0,null,1,Z+1)));
const wave=(x0)=>ic(x0,0,cp(2,123,2)+'M3.5 121.5L7 117.5'+cp(9,116,2)+'M10.5 117.5L14 121.5'+cp(16,123,2)+'M17.5 121.5L21 117.5'+cp(23,116,2),INK,1);
wave(570);wave(608);txt(579,108,'1',10,INK,{a:'center',w:'bold'});txt(594,108,'5',10,INK,{a:'center',w:'bold'});txt(618,108,'A',10,INK,{a:'center',w:'bold'});txt(632,108,'C',10,INK,{a:'center',w:'bold'});
// event badges
ic(510,565,'M-9 -9H9V3L0 9.5L-9 3Z','#F23645',1.6,'#fff');txt(510,564.5,'E',12,'#F23645',{a:'center',w:'bold'});
circle(625.5,565,9.5,'#fff','#2962FF',1.6);txt(625.5,564.5,'D',12,'#2962FF',{a:'center'});
ic(685.5,565,'M-9 -3.5L0 -10L9 -3.5V9H-9Z','#1E9C8B',1.6,'#fff');txt(685.5,565,'E',12,'#1E9C8B',{a:'center',w:'bold'});
circle(910.5,565.5,9.5,'#fff','#9C27B0',1.6);ic(910.5,565.5,'M2 -6L-4 1H0L-2 6L4 -1H0Z','#9C27B0',1,'#9C27B0');
// pane 2 handles
[[322,600.5],[537,650]].forEach(a=>{G.push({type:'rect',z:Z,silent:true,x:a[0],y:a[1],rotation:Math.PI/4,shape:{x:-13,y:-13,width:26,height:26,r:4},style:{fill:'rgba(38,198,218,.15)'}});G.push({type:'rect',z:Z+1,silent:true,x:a[0],y:a[1],rotation:Math.PI/4,shape:{x:-5,y:-5,width:10,height:10,r:1.5},style:{fill:'#26C6DA'}});});
// tv logo
ic(68,984,'M0 0H13V14H6V6H0ZM14 14L21 0H29L22 14ZM17 5.5a2.6 2.6 0 1 1 0.01 0Z','none',0,'#000');
// bottom bar
[['1D',79],['5D',110],['1M',140],['3M',172],['All',203]].forEach(a=>txt(a[1],1061,a[0],14,'#2A2E39',{a:'center'}));
rect(221,1051,1,20,'#E5E5E5');
ic(245,1061,'M-9 -7h18v16h-18zM-9 -3h18M-5 -9v3M5 -9v3M-4 3h8M1 0l3 3l-3 3');
txt(974,1061,'07:31:45 UTC+8',13.7,'#2A2E39',{a:'right'});rect(984,1051,1,20,'#E5E5E5');txt(995,1061,'ADJ',14,'#2A2E39');
ic(997,1027,'M-7 0L-3.5 -6H3.5L7 0L3.5 6H-3.5Z'+cp(0,0,2));

series.push({type:'custom',name:'icons',coordinateSystem:'none',z:ZI,silent:true,data:ICONS.map((_,k)=>k),
 renderItem:(prm)=>{const a=ICONS[prm.dataIndex];return {type:'path',x:a.cx,y:a.cy,shape:{pathData:a.d},style:{fill:a.fill,stroke:a.stroke==='none'?null:a.stroke,lineWidth:a.lw}};}});

const chart=echarts.init(document.getElementById('c'),null,{renderer:'canvas'});
chart.setOption({animation:false,backgroundColor:'#fff',textStyle:{fontFamily:FONT},grid:grids,xAxis:xAxes,yAxis:yAxes,series,graphic:{elements:G}});
</script></body></html>
